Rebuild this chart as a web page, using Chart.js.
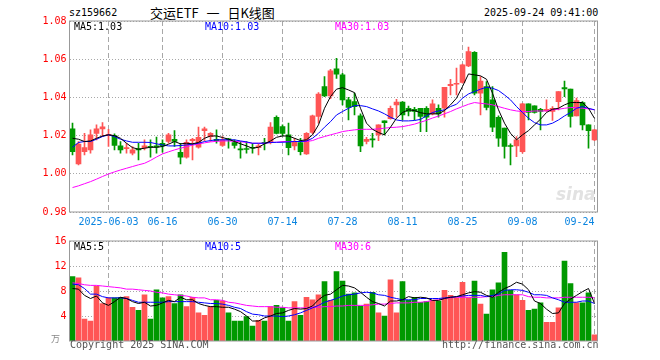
<!DOCTYPE html>
<html>
<head>
<meta charset="utf-8">
<script src="https://cdn.jsdelivr.net/npm/chart.js@4/dist/chart.umd.min.js"></script>
<style>
  body { margin: 0; background: #fff; }
  #wrap { position: relative; width: 660px; height: 360px; overflow: hidden; }
  #wrap canvas { position: absolute; left: 0; }
  .txt { position: absolute; font: 10px/12px "DejaVu Sans Mono", monospace; white-space: pre; }
</style>
</head>
<body>
<div id="wrap">
  <div class="txt" style="left:69px;top:7px;color:#000;">sz159662</div>
  <div class="txt" style="left:150px;top:5px;font:13px/16px 'Noto Sans CJK SC';word-spacing:5px;color:#000;">交运ETF 一 日K线图</div>
  <div class="txt" style="left:484px;top:7px;color:#000;">2025-09-24 09:41:00</div>

  <canvas id="kline" width="660" height="232" style="top:0"></canvas>
  <canvas id="vol" width="660" height="128" style="top:232px"></canvas>

  <div class="txt" style="left:74px;top:21px;color:#000;">MA5:1.03</div>
  <div class="txt" style="left:205px;top:21px;color:#0000ff;">MA10:1.03</div>
  <div class="txt" style="left:335px;top:21px;color:#ff00ff;">MA30:1.03</div>
  <div class="txt" style="left:556px;top:184px;font:italic bold 17px/20px 'DejaVu Sans';color:#e2e2e2;">sina</div>

  <div class="txt" style="left:74px;top:241px;color:#000;">MA5:5</div>
  <div class="txt" style="left:205px;top:241px;color:#0000ff;">MA10:5</div>
  <div class="txt" style="left:335px;top:241px;color:#ff00ff;">MA30:6</div>
  <div class="txt" style="left:51px;top:333px;font:9px/11px 'Noto Sans CJK SC';color:#888;">万</div>

  <div class="txt" style="left:70px;top:339px;color:#555;">Copyright 2025 SINA.COM</div>
  <div class="txt" style="left:442px;top:339px;color:#555;">http://finance.sina.com.cn</div>
</div>

<script>
// trading days shown, 2025-05-23 .. 2025-09-24
const dates = [
  '05-23','05-26','05-27','05-28','05-29','05-30',
  '06-03','06-04','06-05','06-06','06-09','06-10','06-11','06-12','06-13',
  '06-16','06-17','06-18','06-19','06-20','06-23','06-24','06-25','06-26','06-27','06-30',
  '07-01','07-02','07-03','07-04','07-07','07-08','07-09','07-10','07-11',
  '07-14','07-15','07-16','07-17','07-18','07-21','07-22','07-23','07-24','07-25',
  '07-28','07-29','07-30','07-31','08-01','08-04','08-05','08-06','08-07','08-08',
  '08-11','08-12','08-13','08-14','08-15','08-18','08-19','08-20','08-21','08-22',
  '08-25','08-26','08-27','08-28','08-29','09-01','09-02','09-03','09-04','09-05',
  '09-08','09-09','09-10','09-11','09-12','09-15','09-16','09-17','09-18','09-19',
  '09-22','09-23','09-24'
];
const xTickDates = ['06-03','06-16','06-30','07-14','07-28','08-11','08-25','09-08','09-24'];
const xTickText  = ['2025-06-03','06-16','06-30','07-14','07-28','08-11','08-25','09-08','09-24'];
const priceTicks = [0.98, 1.00, 1.02, 1.04, 1.06, 1.08];
const volTicks = [4, 8, 12, 16];

const open = [
  1.0235,1.0052,1.0116,1.0125,1.0212,1.0235,1.0201,1.0200,1.0146,1.0131,
  1.0108,1.0131,1.0136,1.0143,1.0146,1.0160,1.0169,1.0181,1.0113,1.0087,
  1.0174,1.0139,1.0226,1.0195,1.0181,1.0148,1.0183,1.0164,1.0129,1.0129,
  1.0139,1.0137,1.0165,1.0164,1.0296,1.0247,1.0204,1.0146,1.0164,1.0104,
  1.0216,1.0300,1.0457,1.0408,1.0549,1.0518,1.0387,1.0378,1.0303,1.0169,
  1.0181,1.0204,1.0277,1.0289,1.0361,1.0376,1.0343,1.0338,1.0343,1.0343,
  1.0314,1.0343,1.0343,1.0462,1.0469,1.0478,1.0565,1.0636,1.0422,1.0457,
  1.0387,1.0296,1.0239,1.0146,1.0146,1.0116,1.0366,1.0356,1.0338,1.0331,
  1.0326,1.0378,1.0451,1.0444,1.0303,1.0373,1.0256,1.0177
];
const high = [
  1.0265,1.0169,1.0212,1.0230,1.0256,1.0268,1.0233,1.0209,1.0169,1.0160,
  1.0143,1.0160,1.0178,1.0178,1.0192,1.0178,1.0212,1.0226,1.0160,1.0178,
  1.0186,1.0244,1.0244,1.0216,1.0230,1.0195,1.0186,1.0178,1.0169,1.0169,
  1.0160,1.0157,1.0186,1.0268,1.0303,1.0256,1.0265,1.0186,1.0186,1.0216,
  1.0308,1.0425,1.0509,1.0547,1.0605,1.0526,1.0401,1.0422,1.0314,1.0191,
  1.0212,1.0256,1.0277,1.0355,1.0390,1.0378,1.0355,1.0348,1.0343,1.0352,
  1.0387,1.0361,1.0453,1.0495,1.0553,1.0575,1.0663,1.0640,1.0509,1.0483,
  1.0457,1.0303,1.0239,1.0157,1.0195,1.0369,1.0366,1.0356,1.0343,1.0387,
  1.0352,1.0431,1.0486,1.0444,1.0396,1.0378,1.0256,1.0233
];
const low = [
  1.0099,1.0047,1.0099,1.0108,1.0178,1.0195,1.0143,1.0125,1.0108,1.0108,
  1.0099,1.0073,1.0125,1.0087,1.0108,1.0113,1.0160,1.0143,1.0052,1.0082,
  1.0073,1.0134,1.0174,1.0169,1.0160,1.0143,1.0134,1.0134,1.0082,1.0108,
  1.0108,1.0099,1.0125,1.0157,1.0209,1.0198,1.0099,1.0125,1.0099,1.0101,
  1.0209,1.0265,1.0404,1.0394,1.0500,1.0361,1.0282,1.0308,1.0116,1.0157,
  1.0139,1.0174,1.0204,1.0286,1.0296,1.0282,1.0303,1.0282,1.0221,1.0221,
  1.0308,1.0296,1.0296,1.0413,1.0413,1.0474,1.0561,1.0413,1.0308,1.0335,
  1.0221,1.0143,1.0082,1.0047,1.0090,1.0108,1.0282,1.0317,1.0230,1.0326,
  1.0280,1.0335,1.0404,1.0244,1.0303,1.0230,1.0134,1.0174
];
const close = [
  1.0116,1.0155,1.0137,1.0204,1.0235,1.0246,1.0206,1.0148,1.0125,1.0137,
  1.0125,1.0125,1.0146,1.0139,1.0139,1.0146,1.0204,1.0169,1.0087,1.0165,
  1.0181,1.0191,1.0235,1.0212,1.0174,1.0178,1.0178,1.0148,1.0125,1.0127,
  1.0134,1.0146,1.0160,1.0244,1.0212,1.0212,1.0137,1.0169,1.0116,1.0212,
  1.0303,1.0417,1.0408,1.0539,1.0521,1.0387,1.0347,1.0352,1.0146,1.0181,
  1.0178,1.0256,1.0268,1.0343,1.0375,1.0308,1.0326,1.0326,1.0300,1.0296,
  1.0366,1.0314,1.0453,1.0469,1.0474,1.0570,1.0640,1.0422,1.0486,1.0347,
  1.0244,1.0186,1.0143,1.0143,1.0178,1.0366,1.0321,1.0321,1.0326,1.0338,
  1.0343,1.0431,1.0444,1.0300,1.0383,1.0256,1.0226,1.0230
];
const ma5 = [
  1.0186,1.0181,1.0169,1.0172,1.0186,1.0198,1.0204,1.0200,1.0186,1.0160,
  1.0137,1.0129,1.0134,1.0139,1.0139,1.0143,1.0155,1.0169,1.0157,1.0160,
  1.0157,1.0164,1.0186,1.0198,1.0198,1.0190,1.0181,1.0169,1.0157,1.0146,
  1.0134,1.0139,1.0157,1.0172,1.0191,1.0198,1.0198,1.0186,1.0174,1.0178,
  1.0204,1.0256,1.0343,1.0404,1.0443,1.0451,1.0439,1.0425,1.0343,1.0265,
  1.0233,1.0216,1.0204,1.0244,1.0291,1.0321,1.0335,1.0331,1.0320,1.0314,
  1.0314,1.0314,1.0331,1.0361,1.0396,1.0457,1.0523,1.0518,1.0513,1.0495,
  1.0422,1.0335,1.0265,1.0212,1.0178,1.0204,1.0226,1.0256,1.0286,1.0321,
  1.0338,1.0343,1.0361,1.0373,1.0373,1.0373,1.0343,1.0290
];
const ma10 = [
  1.0139,1.0164,1.0169,1.0169,1.0181,1.0195,1.0204,1.0195,1.0181,1.0172,
  1.0165,1.0165,1.0165,1.0164,1.0157,1.0151,1.0146,1.0146,1.0148,1.0151,
  1.0155,1.0160,1.0169,1.0174,1.0178,1.0178,1.0178,1.0178,1.0172,1.0167,
  1.0160,1.0160,1.0160,1.0164,1.0165,1.0165,1.0167,1.0169,1.0169,1.0172,
  1.0186,1.0212,1.0244,1.0273,1.0308,1.0326,1.0343,1.0357,1.0357,1.0352,
  1.0340,1.0329,1.0314,1.0296,1.0282,1.0277,1.0277,1.0279,1.0285,1.0303,
  1.0321,1.0329,1.0335,1.0352,1.0364,1.0396,1.0418,1.0431,1.0443,1.0453,
  1.0448,1.0436,1.0413,1.0387,1.0352,1.0321,1.0291,1.0268,1.0256,1.0256,
  1.0265,1.0282,1.0303,1.0321,1.0343,1.0352,1.0343,1.0335
];
const ma30 = [
  0.9928,0.9937,0.9948,0.9959,0.9972,0.9986,0.9999,1.0010,1.0020,1.0029,
  1.0038,1.0047,1.0055,1.0070,1.0088,1.0104,1.0115,1.0125,1.0134,1.0142,
  1.0150,1.0156,1.0162,1.0167,1.0170,1.0172,1.0172,1.0170,1.0168,1.0164,
  1.0160,1.0160,1.0160,1.0164,1.0165,1.0169,1.0169,1.0169,1.0169,1.0169,
  1.0174,1.0186,1.0195,1.0204,1.0212,1.0221,1.0226,1.0230,1.0233,1.0233,
  1.0233,1.0235,1.0239,1.0242,1.0244,1.0247,1.0253,1.0260,1.0270,1.0280,
  1.0292,1.0302,1.0314,1.0326,1.0340,1.0352,1.0364,1.0373,1.0369,1.0366,
  1.0361,1.0352,1.0343,1.0335,1.0329,1.0326,1.0326,1.0329,1.0329,1.0329,
  1.0335,1.0338,1.0343,1.0347,1.0347,1.0343,1.0340,1.0335
];

// volume, in 10k lots
const volume = [
  10.3,10.1,3.5,3.2,8.8,6.0,6.9,6.9,7.0,7.1,
  5.4,4.9,7.4,3.5,8.2,6.9,7.1,6.0,7.4,5.5,
  7.0,4.5,4.1,5.5,6.5,6.4,4.5,3.2,3.2,3.9,
  2.4,3.3,3.2,5.5,5.7,5.3,3.2,6.3,4.1,7.0,
  6.6,7.4,9.5,6.5,11.1,9.6,7.5,7.7,5.6,5.9,
  7.8,4.5,4.0,9.8,4.5,9.5,6.5,7.0,6.2,6.3,
  6.5,6.4,8.1,7.3,6.9,9.4,6.9,9.6,5.9,4.3,
  8.2,9.3,14.2,8.1,7.4,6.5,4.9,5.1,6.1,3.0,
  3.0,5.3,12.8,9.2,6.1,6.1,7.7,1.0
];
const volMa5 = [
  8.4,8.3,7.3,6.8,7.2,6.1,5.7,6.3,7.0,6.8,
  6.3,6.0,6.2,5.6,5.7,6.1,6.5,6.3,7.0,6.6,
  6.6,6.0,5.7,5.5,5.5,5.4,5.4,5.1,4.7,4.0,
  3.2,3.2,3.7,4.0,4.4,4.5,4.9,5.2,5.1,5.2,
  5.6,6.6,7.3,7.5,8.2,8.9,8.8,8.5,7.8,7.0,
  6.3,6.0,5.6,6.4,6.4,6.6,7.1,6.9,7.0,6.9,
  6.5,6.5,6.8,7.0,7.1,7.4,7.7,7.9,7.8,7.3,
  7.0,7.8,8.4,8.8,9.4,9.1,8.2,6.4,6.0,5.1,
  4.4,4.5,6.0,6.7,7.3,7.9,8.4,6.0
];
const volMa10 = [
  9.1,9.0,8.4,7.5,7.5,7.1,6.9,6.9,6.9,6.8,
  6.5,6.2,6.2,6.2,6.2,6.2,6.3,6.3,6.3,6.3,
  6.3,6.2,6.1,6.0,6.0,5.9,5.7,5.4,5.2,4.7,
  4.3,4.2,4.0,4.0,4.0,3.9,4.0,4.2,4.5,4.9,
  5.3,5.7,6.2,6.5,6.8,7.2,7.4,7.5,7.7,7.8,
  7.7,7.4,7.3,7.0,6.8,6.6,6.6,6.6,6.8,6.8,
  6.8,6.8,6.9,7.0,7.1,7.2,7.3,7.3,7.3,7.1,
  7.3,7.5,8.1,8.2,8.2,8.1,7.8,7.4,7.4,7.3,
  6.9,6.6,6.2,6.2,6.2,6.4,6.4,6.0
];
const volMa30 = [
  9.3,9.2,9.0,8.9,8.9,8.8,8.7,8.6,8.5,8.3,
  8.3,8.2,8.1,8.0,7.8,7.7,7.5,7.4,7.3,7.2,
  7.0,6.9,6.9,6.6,6.6,6.5,6.2,6.1,5.9,5.7,
  5.6,5.5,5.5,5.5,5.4,5.4,5.3,5.3,5.3,5.3,
  5.4,5.4,5.5,5.5,5.6,5.6,5.7,5.7,5.7,5.7,
  5.8,5.9,5.9,6.0,6.1,6.1,6.1,6.2,6.2,6.3,
  6.5,6.6,6.8,6.9,7.0,7.0,7.0,7.0,7.0,7.1,
  7.1,7.3,7.4,7.4,7.4,7.4,7.1,7.0,7.0,6.9,
  6.9,6.9,7.0,7.0,7.0,7.0,7.0,6.9
];

const UP = '#ff5555';
const DOWN = '#009900';
const GRID = '#a8a8a8';
const monoFont = { family: 'DejaVu Sans Mono', size: 10 };
const candleColor = close.map((c, i) => c >= open[i] ? UP : DOWN);
const markIdx = xTickDates.map(d => dates.indexOf(d));

// gray box round the plot area
const frame = {
  id: 'frame',
  afterDraw(chart) {
    const a = chart.chartArea, ctx = chart.ctx;
    ctx.save();
    ctx.strokeStyle = '#999';
    ctx.lineWidth = 1;
    ctx.strokeRect(a.left, a.top, a.right - a.left, a.bottom - a.top);
    ctx.restore();
  }
};

function lineSet(label, data, color) {
  return { type: 'line', label, data, borderColor: color, borderWidth: 1,
           pointRadius: 0, tension: 0, order: 0 };
}

function xScale(showLabels) {
  return {
    offset: true,
    grid: {
      offset: false, drawTicks: false, lineWidth: 1,
      color: c => markIdx.includes(c.index) ? GRID : 'rgba(0,0,0,0)'
    },
    border: { display: false, dash: [5, 3] },
    ticks: {
      display: showLabels, autoSkip: false, maxRotation: 0, minRotation: 0,
      align: 'inner', padding: 4, color: '#0a84e0', font: monoFont,
      callback: (v, i) => {
        const k = markIdx.indexOf(i);
        return k >= 0 ? xTickText[k] : '';
      }
    },
    afterFit: s => { s.height = showLabels ? 20 : 0; }
  };
}

new Chart(document.getElementById('kline'), {
  type: 'bar',
  data: {
    labels: dates,
    datasets: [
      lineSet('MA5', ma5, '#000000'),
      lineSet('MA10', ma10, '#0000ff'),
      lineSet('MA30', ma30, '#ff00ff'),
      { label: 'body', data: open.map((o, i) => [o, close[i]]), backgroundColor: candleColor,
        barThickness: 5, grouped: false, minBarLength: 1, order: 1 },
      { label: 'wick', data: low.map((l, i) => [l, high[i]]), backgroundColor: candleColor,
        barThickness: 1, grouped: false, order: 2 }
    ]
  },
  options: {
    responsive: false,
    animation: false,
    layout: { padding: { left: 0.5, right: 62.5, top: 21, bottom: 0 } },
    plugins: { legend: { display: false }, tooltip: { enabled: false } },
    scales: {
      x: xScale(true),
      y: {
        min: 0.98, max: 1.08,
        afterBuildTicks: s => { s.ticks = priceTicks.map(v => ({ value: v })); },
        grid: { color: GRID, drawTicks: false },
        border: { display: false, dash: [1, 2] },
        ticks: { color: '#ff0000', padding: 3, font: monoFont, callback: v => v.toFixed(2) },
        afterFit: s => { s.width = 69; }
      }
    }
  },
  plugins: [frame]
});

new Chart(document.getElementById('vol'), {
  type: 'bar',
  data: {
    labels: dates,
    datasets: [
      lineSet('MA5', volMa5, '#000000'),
      lineSet('MA10', volMa10, '#0000ff'),
      lineSet('MA30', volMa30, '#ff00ff'),
      { label: 'volume', data: volume, backgroundColor: candleColor,
        barThickness: 5, grouped: false, order: 1 }
    ]
  },
  options: {
    responsive: false,
    animation: false,
    layout: { padding: { left: 0.5, right: 62.5, top: 8, bottom: 19 } },
    plugins: { legend: { display: false }, tooltip: { enabled: false } },
    scales: {
      x: xScale(false),
      y: {
        min: 0, max: 16,
        afterBuildTicks: s => { s.ticks = volTicks.map(v => ({ value: v })); },
        grid: { color: GRID, drawTicks: false },
        border: { display: false, dash: [1, 2] },
        ticks: { color: '#ff0000', padding: 3, font: monoFont },
        afterFit: s => { s.width = 69; }
      }
    }
  },
  plugins: [frame]
});
</script>
</body>
</html>
